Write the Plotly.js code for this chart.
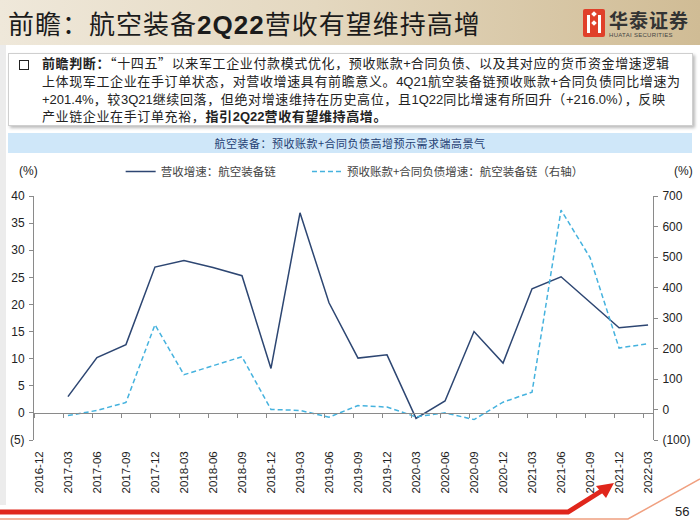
<!DOCTYPE html>
<html>
<head>
<meta charset="utf-8">
<script src="https://cdn.plot.ly/plotly-3.0.1.min.js"></script>
<style>
  html, body { margin:0; padding:0; background:#fff; }
  body { width:700px; height:525px; position:relative; overflow:hidden; font-family:"Noto Sans CJK SC","Liberation Sans",sans-serif; }
  #banner { position:absolute; left:0; top:0; width:700px; height:45px;
    background:linear-gradient(to right, #efe8da 0%, #e4d8c0 45%, #d0bc95 100%); }
  #title { position:absolute; left:8px; top:4px; font-size:26px; color:#1b1b1b; letter-spacing:1px; white-space:nowrap; }
  #title b { font-family:"Liberation Sans",Arial,sans-serif; font-weight:bold; }
  #logoicon { position:absolute; left:583px; top:9px; width:22px; height:28px; background:#e0402a; border-radius:2px; overflow:hidden; }
  #logoicon i { position:absolute; background:#fff; }
  #logotext { position:absolute; left:609px; top:6px; font-size:19px; font-weight:bold; color:#333; letter-spacing:1px; }
  #logosub { position:absolute; left:609px; top:32px; font-size:6px; color:#444; font-family:"Liberation Sans",sans-serif; letter-spacing:0.3px; }
  #leftstrip { position:absolute; left:0; top:45px; width:6px; height:460px; background:#ececec; }
  #box { position:absolute; left:8px; top:53px; width:683px; height:71px; border:1px solid #cfcfcf; box-shadow:2px 2px 3px #bbb; background:#fff; }
  #bullet { position:absolute; left:10px; top:6px; width:8px; height:8px; border:1.5px solid #222; }
  #boxtext { position:absolute; left:33px; top:1px; font-size:13px; line-height:16.8px; color:#222; white-space:nowrap; letter-spacing:0.62px; }
  #boxtext .en { font-family:"Liberation Sans",Arial,sans-serif; letter-spacing:0; }
  #hdr { position:absolute; left:8px; top:133px; width:684px; height:20px; background:#cfe7f9; text-align:center; font-size:11px; line-height:20px; color:#1f3f73; letter-spacing:0.5px; }
  #chart { position:absolute; left:0; top:0; width:700px; height:525px; }
  #deco { position:absolute; left:0; top:472px; }
  #pagenum { position:absolute; left:675px; top:504px; font-size:13px; font-family:"Liberation Sans",Arial,sans-serif; color:#222; }
</style>
</head>
<body>
<div id="banner"></div>
<div id="title">前瞻：航空装备<b>2Q22</b>营收有望维持高增</div>
<div id="logoicon"><i style="left:4px;top:6px;width:3px;height:18px"></i><i style="left:15px;top:6px;width:3px;height:18px"></i><i style="left:9px;top:3px;width:4px;height:4px;transform:rotate(45deg)"></i><i style="left:9px;top:12px;width:4px;height:4px;transform:rotate(45deg)"></i></div>
<div id="logotext">华泰证券</div>
<div id="logosub">HUATAI SECURITIES</div>
<div id="leftstrip"></div>
<div id="box">
  <div id="bullet"></div>
  <div id="boxtext"><b>前瞻判断：</b>“十四五”以来军工企业付款模式优化，预收账款<span class="en">+</span>合同负债、以及其对应的货币资金增速逻辑<br>上体现军工企业在手订单状态，对营收增速具有前瞻意义。<span class="en">4Q21</span>航空装备链预收账款<span class="en">+</span>合同负债同比增速为<br><span class="en">+201.4%</span>，较<span class="en">3Q21</span>继续回落，但绝对增速维持在历史高位，且<span class="en">1Q22</span>同比增速有所回升（<span class="en">+216.0%</span>），反映<br>产业链企业在手订单充裕，<b>指引<span class="en">2Q22</span>营收有望维持高增。</b></div>
</div>
<div id="hdr">航空装备：预收账款+合同负债高增预示需求端高景气</div>
<div id="chart"></div>
<svg id="deco" width="700" height="53">
  <polyline points="0,47 628,47 700,7" fill="none" stroke="#f0a080" stroke-width="1.5"/>
  <polyline points="0,40 568,40 603,18" fill="none" stroke="#e0261b" stroke-width="5"/>
  <polygon points="614,11 596,14 606,26" fill="#e0261b"/>
</svg>
<div id="pagenum">56</div>
<script>
const quarters = ['2016-12','2017-03','2017-06','2017-09','2017-12','2018-03','2018-06','2018-09','2018-12','2019-03','2019-06','2019-09','2019-12','2020-03','2020-06','2020-09','2020-12','2021-03','2021-06','2021-09','2021-12','2022-03'];
const revenueGrowth = [null, 3.0, 10.2, 12.6, 26.9, 28.1, 26.8, 25.3, 8.2, 36.9, 20.3, 10.1, 10.7, -1.0, 2.2, 15.0, 9.2, 22.9, 25.1, 20.4, 15.7, 16.2];
const advanceGrowth = [null, -20, -3, 23, 278, 114, 144, 173, 0, -3, -25, 13, 8, -24, -11, -33, 24, 57, 654, 498, 201.4, 216.0];
const leftTicks = [-5, 0, 5, 10, 15, 20, 25, 30, 35, 40];
const leftTickText = ['(5)', '0', '5', '10', '15', '20', '25', '30', '35', '40'];
const rightTicks = [-100, 0, 100, 200, 300, 400, 500, 600, 700];
const rightTickText = ['(100)', '0', '100', '200', '300', '400', '500', '600', '700'];
const seriesNames = ['营收增速：航空装备链', '预收账款+合同负债增速：航空装备链（右轴）'];

const n = quarters.length;
const shift = 0.17;
const axisColor = '#8a8a8a';
const tickFont = {family: 'Liberation Sans, Arial, sans-serif', size: 12, color: '#222'};
const legendFont = {family: 'Noto Sans CJK SC, sans-serif', size: 11.5, color: '#444'};

const traces = [
  {x: quarters, y: revenueGrowth, type: 'scatter', mode: 'lines', name: seriesNames[0], legend: 'legend',
   line: {color: '#2d4672', width: 1.5}, xaxis: 'x', yaxis: 'y', connectgaps: false},
  {x: quarters, y: advanceGrowth, type: 'scatter', mode: 'lines', name: seriesNames[1], legend: 'legend2',
   line: {color: '#45b2de', width: 1.5, dash: '5px,3px'}, xaxis: 'x', yaxis: 'y2'},
  {x: quarters, y: quarters.map(() => null), type: 'scatter', mode: 'lines', showlegend: false,
   hoverinfo: 'skip', xaxis: 'x2', yaxis: 'y'}
];

const layout = {
  width: 700, height: 525,
  margin: {l: 34, r: 47, t: 196, b: 85},
  paper_bgcolor: 'rgba(0,0,0,0)', plot_bgcolor: 'rgba(0,0,0,0)',
  showlegend: true,
  legend: {orientation: 'h', x: 0.14, xanchor: 'left', y: 1.1, yanchor: 'middle',
    font: legendFont, bgcolor: 'rgba(0,0,0,0)', itemwidth: 30},
  legend2: {orientation: 'h', x: 0.441, xanchor: 'left', y: 1.1, yanchor: 'middle',
    font: legendFont, bgcolor: 'rgba(0,0,0,0)', itemwidth: 30},
  xaxis: {type: 'category', categoryarray: quarters, range: [-shift, n - 1 + shift],
    showline: false, ticks: '', showgrid: false, zeroline: false,
    tickangle: -90, tickfont: {family: 'Liberation Sans, Arial, sans-serif', size: 11.5, color: '#222'},
    ticklabelstandoff: 8, fixedrange: true},
  xaxis2: {type: 'category', categoryarray: quarters, range: [0, n - 1 + 2 * shift],
    overlaying: 'x', anchor: 'free', position: 5 / 45,
    showline: true, linecolor: axisColor, linewidth: 1, ticks: 'outside', ticklen: 4, tickcolor: axisColor,
    showticklabels: false, showgrid: false, zeroline: false},
  yaxis: {range: [-5, 40], tickvals: leftTicks, ticktext: leftTickText, tickfont: tickFont,
    showline: true, linecolor: axisColor, linewidth: 1, ticks: 'outside', ticklen: 4, tickcolor: axisColor,
    showgrid: false, zeroline: false, ticklabelstandoff: 2},
  yaxis2: {range: [-100, 700], tickvals: rightTicks, ticktext: rightTickText, tickfont: tickFont,
    overlaying: 'y', side: 'right', anchor: 'x',
    showline: true, linecolor: axisColor, linewidth: 1, ticks: 'outside', ticklen: 4, tickcolor: axisColor,
    showgrid: false, zeroline: false, ticklabelstandoff: 2},
  annotations: [
    {text: '(%)', xref: 'paper', yref: 'paper', x: -0.028, y: 1.14, showarrow: false, xanchor: 'left',
     font: {family: 'Liberation Sans, Arial, sans-serif', size: 12, color: '#222'}},
    {text: '(%)', xref: 'paper', yref: 'paper', x: 1.03, y: 1.14, showarrow: false, xanchor: 'left',
     font: {family: 'Liberation Sans, Arial, sans-serif', size: 12, color: '#222'}}
  ]
};

Plotly.newPlot('chart', traces, layout, {displayModeBar: false, staticPlot: true});
</script>
</body>
</html>
